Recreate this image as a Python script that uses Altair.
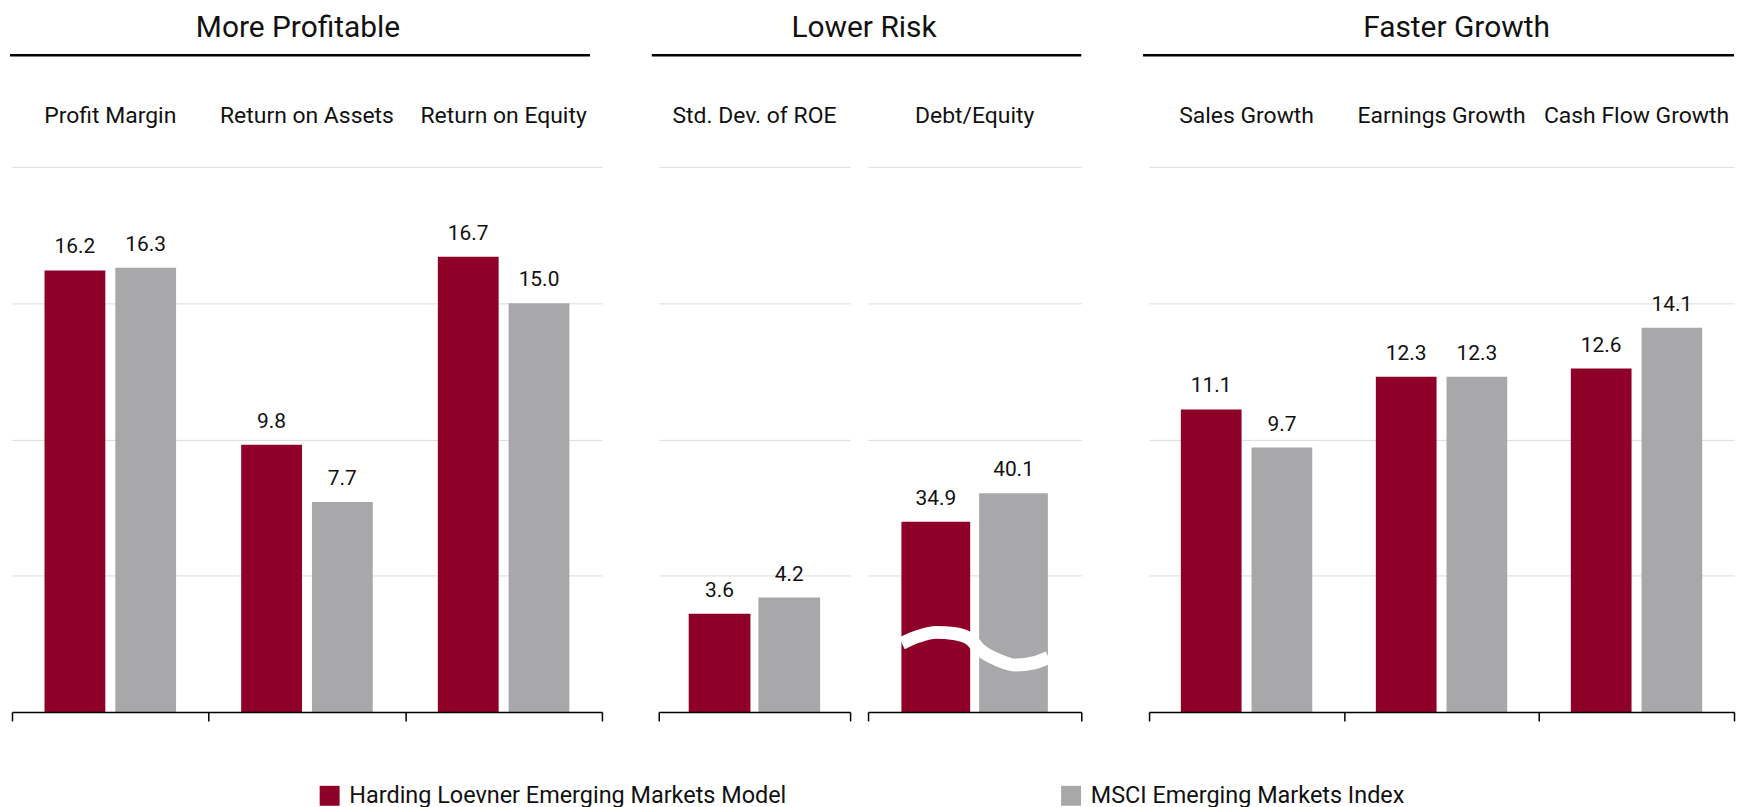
import altair as alt
import pandas as pd

FONT = "Roboto"

series = ["Harding Loevner Emerging Markets Model", "MSCI Emerging Markets Index"]
colors = ["#8f0029", "#a8a8aa"]

profit_metrics = ["Profit Margin", "Return on Assets", "Return on Equity"]
profit_hl = [16.2, 9.8, 16.7]
profit_msci = [16.3, 7.7, 15.0]

risk_sd_metrics = ["Std. Dev. of ROE"]
risk_sd_hl = [3.6]
risk_sd_msci = [4.2]

risk_de_metrics = ["Debt/Equity"]
risk_de_hl = [34.9]
risk_de_msci = [40.1]

growth_metrics = ["Sales Growth", "Earnings Growth", "Cash Flow Growth"]
growth_hl = [11.1, 12.3, 12.6]
growth_msci = [9.7, 12.3, 14.1]

# axis-break wave drawn across the Debt/Equity bars (x: share of panel width, y: value)
break_x = [0.159, 0.238, 0.318, 0.402, 0.481, 0.523, 0.612, 0.692, 0.776, 0.846]
break_y = [12.6, 13.9, 14.6, 14.4, 13.3, 11.5, 9.5, 8.6, 9.0, 10.0]


def frame(metrics, hl, msci):
    rows = []
    for m, a, b in zip(metrics, hl, msci):
        rows.append({"metric": m, "series": series[0], "value": a})
        rows.append({"metric": m, "series": series[1], "value": b})
    return pd.DataFrame(rows)


legend = alt.Legend(
    title=None, orient="none", legendX=307, legendY=619, direction="horizontal",
    symbolType="square", symbolSize=400, symbolStrokeWidth=0,
    labelFontSize=23.5, labelFont=FONT, labelColor="#111111", labelOffset=8,
    columnPadding=273, labelLimit=0, padding=0,
)

H = 547


def panel(metrics, hl, msci, width, ymax, grid_vals, pin, pout, rule_x, rule_x2, wave=False):
    df = frame(metrics, hl, msci)
    base = alt.Chart(df)
    band = width / len(metrics)
    x_scale = alt.Scale(domain=metrics, paddingInner=0, paddingOuter=0)
    xoff = alt.XOffset("series:N", sort=series,
                       scale=alt.Scale(domain=series, range=[0, band],
                                       paddingInner=pin, paddingOuter=pout))
    y_axis = alt.Axis(title=None, labels=False, ticks=False, domain=False, grid=True,
                      values=grid_vals, gridColor="#dcdcdc", gridWidth=1)
    y_enc = alt.Y("value:Q", scale=alt.Scale(domain=[0, ymax], nice=False, zero=True), axis=y_axis)
    color = alt.Color("series:N", sort=series, scale=alt.Scale(domain=series, range=colors), legend=legend)

    bars = base.mark_bar().encode(
        x=alt.X("metric:N", sort=metrics, scale=x_scale,
                axis=alt.Axis(orient="top", title=None, domain=False, ticks=False, tickSize=0,
                              grid=False, labelPadding=40, labelFontSize=23, labelFont=FONT,
                              labelColor="#111111", labelAngle=0, labelLimit=0)),
        xOffset=xoff,
        y=y_enc,
        color=color,
    )
    labels = base.mark_text(baseline="alphabetic", dy=-17, fontSize=21, font=FONT,
                            color="#111111").encode(
        x=alt.X("metric:N", sort=metrics, scale=x_scale,
                axis=alt.Axis(orient="bottom", title=None, labels=False, domain=True, grid=False,
                              domainColor="#000000", domainWidth=1.5, ticks=True,
                              tickColor="#000000", tickWidth=1.5, tickSize=9,
                              tickBand="extent", zindex=1)),
        xOffset=xoff,
        y=y_enc,
        text=alt.Text("value:Q", format=".1f"),
    )
    layers = [bars, labels]
    if wave:
        wdf = pd.DataFrame({"bx": break_x, "value": break_y})
        wl = alt.Chart(wdf).mark_line(color="white", strokeWidth=13, interpolate="monotone",
                                      strokeCap="butt").encode(
            x=alt.X("bx:Q", scale=alt.Scale(domain=[0, 1], nice=False, zero=False), axis=None),
            y=y_enc,
        )
        layers.append(wl)
    if rule_x2 > rule_x:
        rule = alt.Chart(pd.DataFrame({"k": [0]})).mark_rule(color="#000000", strokeWidth=2.5).encode(
            x=alt.value(rule_x), x2=alt.value(rule_x2), y=alt.value(55 - 167)
        )
        layers.append(rule)
    ch = alt.layer(*layers).resolve_axis(x="independent")
    if wave:
        ch = ch.resolve_scale(x="independent")
    return ch.properties(width=width, height=H)


def title(text, dx):
    return alt.TitleParams(text, fontSize=30, font=FONT, fontWeight="normal", color="#111111",
                           anchor="middle", offset=11, dx=dx)


def spacer(w):
    return alt.Chart(pd.DataFrame({"k": [0]})).mark_rule(opacity=0).encode(
        x=alt.value(0), y=alt.value(0)
    ).properties(width=w, height=H)


p1 = panel(profit_metrics, profit_hl, profit_msci, 592, 20, [0, 5, 10, 15, 20], 0.141, 0.46,
           -2, 580).properties(title=title("More Profitable", -9))
p2a = panel(risk_sd_metrics, risk_sd_hl, risk_sd_msci, 192, 20, [0, 5, 10, 15, 20], 0.114, 0.43,
            -7, 424).properties(title=title("Lower Risk", 110))
p2b = panel(risk_de_metrics, risk_de_hl, risk_de_msci, 214, 100, [0, 25, 50, 75, 100], 0.115, 0.43,
            0, 0, wave=True)
p3 = panel(growth_metrics, growth_hl, growth_msci, 587, 20, [0, 5, 10, 15, 20], 0.141, 0.45,
           -6, 587).properties(title=title("Faster Growth", 15))

chart = alt.hconcat(p1, spacer(21), p2a, p2b, spacer(32), p3, spacing=18, bounds="flush").resolve_scale(
    xOffset="independent"
).properties(
    padding={"left": 0, "top": 3, "right": 6, "bottom": 6}, background="white"
).configure(font=FONT).configure_view(stroke=None)

chart.save("out.html", embed_options={"renderer": "svg", "actions": False})
